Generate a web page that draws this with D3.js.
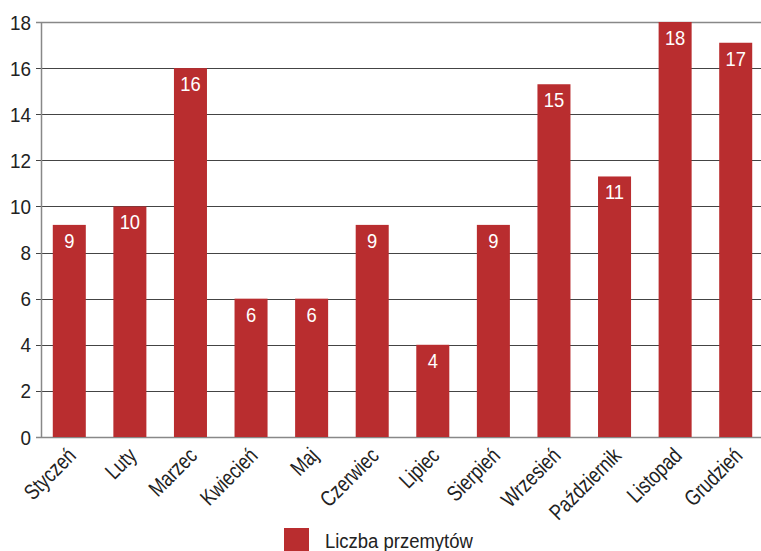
<!DOCTYPE html>
<html>
<head>
<meta charset="utf-8">
<script src="https://cdn.jsdelivr.net/npm/d3@7"></script>
<style>
  body { margin: 0; background: #fff; }
  text { font-family: "Liberation Sans", Arial, sans-serif; }
</style>
</head>
<body>
<div id="chart"></div>
<script>
// months and number of smuggling cases
var months = ['Styczeń', 'Luty', 'Marzec', 'Kwiecień', 'Maj', 'Czerwiec', 'Lipiec',
              'Sierpień', 'Wrzesień', 'Październik', 'Listopad', 'Grudzień'];
var values = [9.2, 10, 16, 6, 6, 9.2, 4, 9.2, 15.3, 11.3, 18, 17.1];
var labels = [9, 10, 16, 6, 6, 9, 4, 9, 15, 11, 18, 17];
var yTicks = [0, 2, 4, 6, 8, 10, 12, 14, 16, 18];
var seriesName = 'Liczba przemytów';

var W = 761, H = 551;
var red = '#b92d2f';

var svg = d3.select('#chart').append('svg').attr('width', W).attr('height', H);

var x = d3.scaleBand().domain(months).range([39, 766]).paddingInner(0.455).paddingOuter(0.2275);
var y = d3.scaleLinear().domain([0, 18]).range([437, 22]);

// grid lines
svg.append('g').selectAll('line').data(yTicks).enter().append('line')
  .attr('x1', 36).attr('x2', W)
  .attr('y1', function(d) { return Math.round(y(d)) + 0.5; })
  .attr('y2', function(d) { return Math.round(y(d)) + 0.5; })
  .attr('stroke', function(d) { return (d == 0 || d == 18) ? '#888' : '#444'; })
  .attr('stroke-width', function(d) { return (d == 0 || d == 18) ? 1.5 : 1; });

// y axis line
svg.append('line').attr('x1', 41.5).attr('x2', 41.5).attr('y1', y(18)).attr('y2', y(0))
  .attr('stroke', '#888').attr('stroke-width', 1.5);

// y tick labels (squeezed a bit to look like a condensed face)
svg.append('g').selectAll('text').data(yTicks).enter().append('text')
  .attr('transform', function(d) { return 'translate(31,' + y(d) + ') scale(0.9,1)'; })
  .attr('dy', '0.36em')
  .attr('text-anchor', 'end')
  .attr('font-size', 21).attr('fill', '#222')
  .text(function(d) { return d; });

// bars
svg.append('g').selectAll('rect').data(values).enter().append('rect')
  .attr('x', function(d, i) { return x(months[i]); })
  .attr('width', x.bandwidth())
  .attr('y', function(d) { return y(d); })
  .attr('height', function(d) { return y(0) - y(d); })
  .attr('fill', red);

// value labels
svg.append('g').selectAll('text').data(values).enter().append('text')
  .attr('transform', function(d, i) {
    return 'translate(' + (x(months[i]) + x.bandwidth() / 2) + ',' + (y(d) + 23) + ') scale(0.92,1)';
  })
  .attr('text-anchor', 'middle')
  .attr('font-size', 20).attr('fill', '#fff')
  .text(function(d, i) { return labels[i]; });

// month labels
svg.append('g').selectAll('text').data(months).enter().append('text')
  .attr('transform', function(d) {
    return 'translate(' + (x(d) + x.bandwidth() / 2 + 8) + ',457) rotate(-45) scale(0.8,1)';
  })
  .attr('text-anchor', 'end')
  .attr('font-size', 22).attr('fill', '#222')
  .text(function(d) { return d; });

// legend
svg.append('rect').attr('x', 284).attr('y', 528).attr('width', 25).attr('height', 23).attr('fill', red);
svg.append('text').attr('transform', 'translate(325,548) scale(0.88,1)')
  .attr('font-size', 21).attr('fill', '#222').text(seriesName);
</script>
</body>
</html>
